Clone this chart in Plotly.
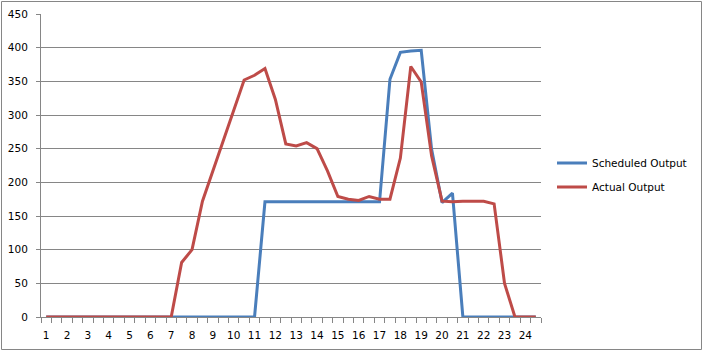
import plotly.graph_objects as go

hours = [str(h) for h in range(1, 25)]
scheduled = [0]*21 + [171]*12 + [353, 393, 395, 396, 249, 170, 184] + [0]*8
actual = [0]*13 + [81, 100, 172, 217, 260, 304, 352, 359, 369, 323, 257, 254, 259, 250, 217,
                   179, 175, 173, 179, 175, 175, 236, 372, 349, 239, 172, 171, 172, 172, 172, 168,
                   50, 0, 0, 0]

x = list(range(len(actual)))
grid = "#868686"
font = dict(family="DejaVu Sans", size=10.5, color="#000000")

fig = go.Figure()
fig.add_trace(go.Scatter(x=x, y=scheduled, mode="lines", name="Scheduled Output",
                         legendgroup="a", line=dict(color="#4A7EBB", width=3)))
fig.add_trace(go.Scatter(x=x, y=actual, mode="lines", name="Actual Output",
                         legendgroup="b", line=dict(color="#BE4B48", width=3)))

fig.update_layout(
    width=703, height=351,
    margin=dict(l=41, r=162, t=14, b=34, autoexpand=False),
    paper_bgcolor="white", plot_bgcolor="white",
    font=font,
    legend=dict(x=1.022, y=(317 - 175) / 303, xanchor="left", yanchor="middle", font=font,
                bgcolor="rgba(0,0,0,0)", traceorder="grouped", tracegroupgap=5),
    xaxis=dict(range=[-0.5, 47.5], tickmode="array",
               tickvals=list(range(0, 48, 2)), ticktext=hours,
               ticks="", showgrid=False, zeroline=False, automargin=False,
               showline=True, linecolor=grid, linewidth=1,
               ticklabelstandoff=8,
               minor=dict(tickmode="array", tickvals=[k - 0.5 for k in range(49)],
                          ticks="outside", ticklen=5, tickcolor=grid, showgrid=False)),
    yaxis=dict(range=[0, 450], dtick=50, showgrid=True, gridcolor=grid, gridwidth=1,
               zeroline=False, showline=True, linecolor=grid, linewidth=1, automargin=False,
               ticks="outside", ticklen=4, tickcolor=grid, ticklabelstandoff=6),
    shapes=[dict(type="rect", xref="paper", yref="paper",
                 x0=(1.5 - 41) / 500, x1=(701.5 - 41) / 500,
                 y0=(317 - 349.5) / 303, y1=(317 - 1.5) / 303,
                 line=dict(color=grid, width=1), fillcolor="rgba(0,0,0,0)", layer="below")],
)

fig.write_html("out.html")
